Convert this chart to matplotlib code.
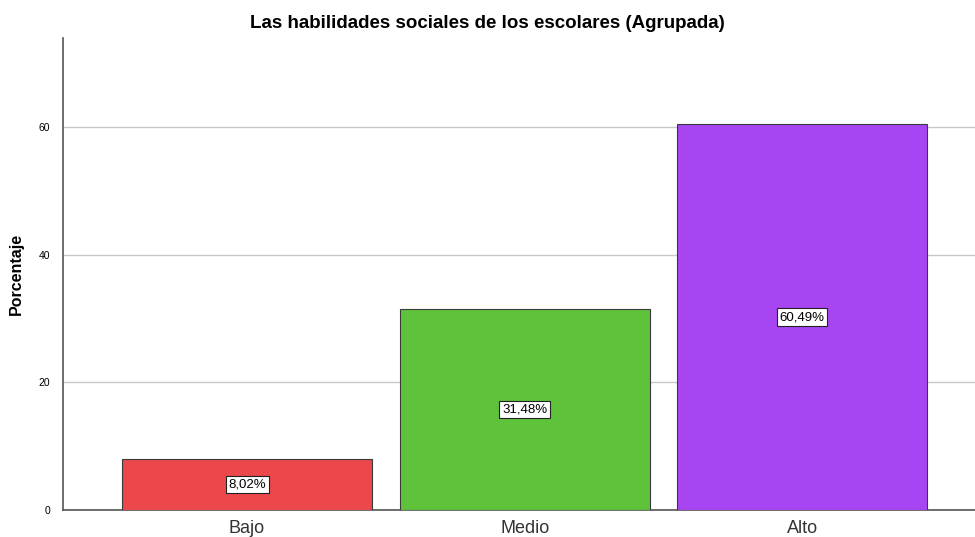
import matplotlib
matplotlib.use('Agg')
import matplotlib.pyplot as plt

plt.rcParams['font.family'] = ['Liberation Sans', 'DejaVu Sans']

categories = ['Bajo', 'Medio', 'Alto']
percentages = [8.02, 31.48, 60.49]
labels = ['8,02%', '31,48%', '60,49%']
colors = ['#EC474B', '#5EC23A', '#A845F2']
yticks = [0, 20, 40, 60]

fig = plt.figure(figsize=(9.75, 5.37), dpi=100)
ax = fig.add_axes([0.0646, 0.0503, 0.9354, 0.8787])

x = list(range(len(categories)))
ax.bar(x, percentages, width=0.9, color=colors, edgecolor='#3a3a3a', linewidth=0.8, zorder=3)

for xi, v, lab in zip(x, percentages, labels):
    ax.text(xi, v / 2, lab, ha='center', va='center', fontsize=9.5, zorder=4,
            bbox=dict(boxstyle='square,pad=0.2', facecolor='white', edgecolor='#222222', linewidth=0.8))

ax.set_xlim(-0.663, 2.622)
ax.set_ylim(0, 74)
ax.set_yticks(yticks)
ax.set_yticklabels([str(t) for t in yticks], fontsize=7.5)
ax.set_xticks(x)
ax.set_xticklabels(categories, fontsize=13, color='#333333')
ax.tick_params(axis='x', length=0, pad=7)
ax.tick_params(axis='y', length=0, pad=9)

ax.grid(axis='y', color='#c8c8c8', linewidth=1, zorder=0)
for s in ['top', 'right']:
    ax.spines[s].set_visible(False)
for s in ['left', 'bottom']:
    ax.spines[s].set_color('#555555')
    ax.spines[s].set_linewidth(1.2)

ax.set_ylabel('Porcentaje', fontsize=11.5, fontweight='bold', labelpad=11)
fig.text(0.5, 0.957, 'Las habilidades sociales de los escolares (Agrupada)',
         ha='center', va='center', fontsize=13.5, fontweight='bold')

fig.savefig('out.png', dpi=100)
